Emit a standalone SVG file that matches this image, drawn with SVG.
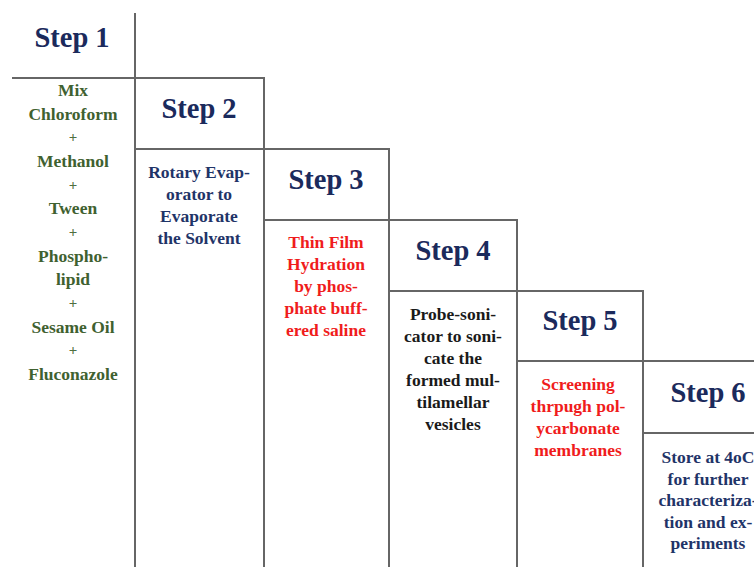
<svg xmlns="http://www.w3.org/2000/svg" width="754" height="567" viewBox="0 0 754 567">
<style>
.ln{stroke:#666;stroke-width:2;fill:none}
.hd{font-family:"Liberation Serif","Times New Roman",serif;font-weight:bold;font-size:28.5px;fill:#1b2a5c;text-anchor:middle}
.bd{font-family:"Liberation Serif","Times New Roman",serif;font-weight:bold;font-size:17.5px;text-anchor:middle}
.gr{fill:#3f6130}
.pl{font-size:15px;fill:#4f7040}
.nv{fill:#1f3468}
.rd{fill:#f01c1c}
.bk{fill:#1a1a1a}
</style>
<rect width="754" height="567" fill="#fff"/>
<g id="step1">
<path class="ln" d="M135,13V567M12,78H135"/>
<text class="hd" x="72" y="47">Step 1</text>
<text class="bd gr" x="73" y="96">Mix</text>
<text class="bd gr" x="73" y="119.7">Chloroform</text>
<text class="bd gr pl" x="73" y="142">+</text>
<text class="bd gr" x="73" y="167">Methanol</text>
<text class="bd gr pl" x="73" y="189.7">+</text>
<text class="bd gr" x="73" y="214.4">Tween</text>
<text class="bd gr pl" x="73" y="237">+</text>
<text class="bd gr" x="73" y="261.7">Phospho-</text>
<text class="bd gr" x="73" y="285.4">lipid</text>
<text class="bd gr pl" x="73" y="308">+</text>
<text class="bd gr" x="73" y="332.7">Sesame Oil</text>
<text class="bd gr pl" x="73" y="355.4">+</text>
<text class="bd gr" x="73" y="380">Fluconazole</text>
</g>
<g id="step2">
<path class="ln" d="M135,78H264V567M135,149H264"/>
<text class="hd" x="199" y="118">Step 2</text>
<text class="bd nv" x="199" y="178">Rotary Evap-</text>
<text class="bd nv" x="199" y="200">orator to</text>
<text class="bd nv" x="199" y="222">Evaporate</text>
<text class="bd nv" x="199" y="244">the Solvent</text>
</g>
<g id="step3">
<path class="ln" d="M264,149H389V567M264,220H389"/>
<text class="hd" x="326" y="189">Step 3</text>
<text class="bd rd" x="326" y="248">Thin Film</text>
<text class="bd rd" x="326" y="270">Hydration</text>
<text class="bd rd" x="326" y="292">by phos-</text>
<text class="bd rd" x="326" y="314">phate buff-</text>
<text class="bd rd" x="326" y="336">ered saline</text>
</g>
<g id="step4">
<path class="ln" d="M389,220H517V567M389,291H517"/>
<text class="hd" x="453" y="260">Step 4</text>
<text class="bd bk" x="453" y="320">Probe-soni-</text>
<text class="bd bk" x="453" y="342">cator to soni-</text>
<text class="bd bk" x="453" y="364">cate the</text>
<text class="bd bk" x="453" y="386">formed mul-</text>
<text class="bd bk" x="453" y="408">tilamellar</text>
<text class="bd bk" x="453" y="430">vesicles</text>
</g>
<g id="step5">
<path class="ln" d="M517,291H643V567M517,361H643"/>
<text class="hd" x="580" y="330">Step 5</text>
<text class="bd rd" x="578" y="390">Screening</text>
<text class="bd rd" x="578" y="412">thrpugh pol-</text>
<text class="bd rd" x="578" y="434">ycarbonate</text>
<text class="bd rd" x="578" y="456">membranes</text>
</g>
<g id="step6">
<path class="ln" d="M643,361H754M643,433H754"/>
<text class="hd" x="708" y="402">Step 6</text>
<text class="bd nv" x="708" y="463">Store at 4oC</text>
<text class="bd nv" x="708" y="484.5">for further</text>
<text class="bd nv" x="708" y="506">characteriza-</text>
<text class="bd nv" x="708" y="527.5">tion and ex-</text>
<text class="bd nv" x="708" y="549">periments</text>
</g>
</svg>
